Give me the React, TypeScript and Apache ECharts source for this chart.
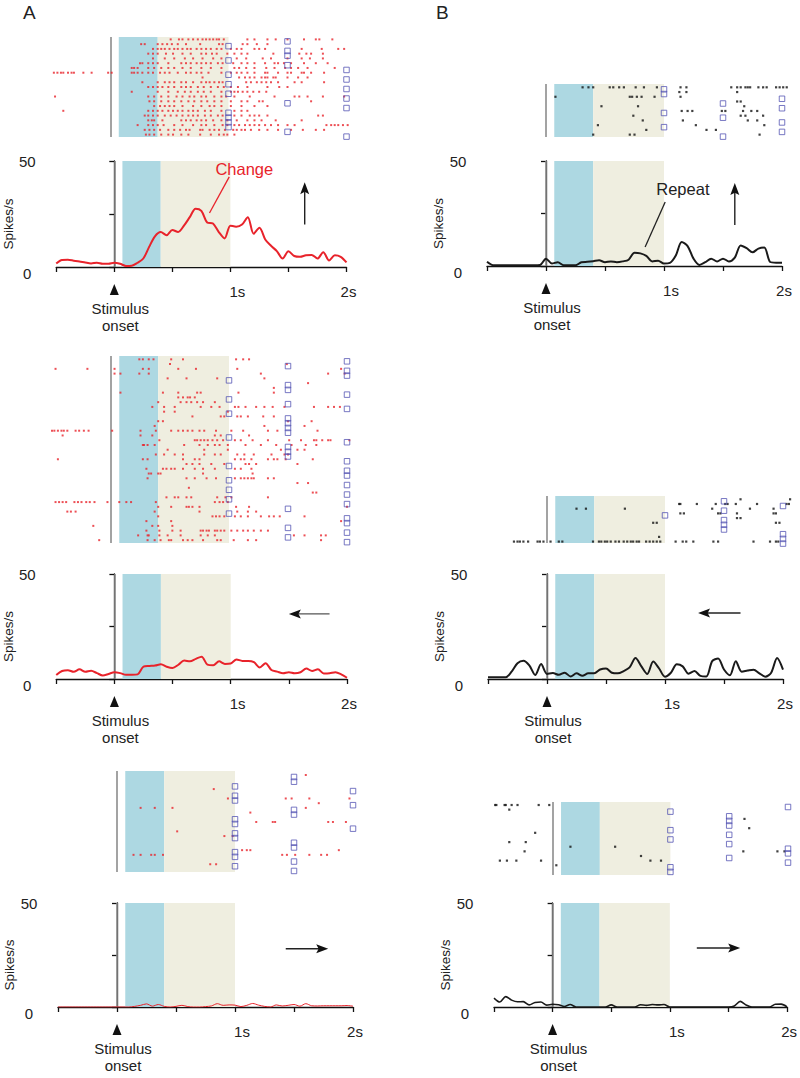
import React, { useEffect, useRef } from 'react';
import * as echarts from 'echarts';

// ---------------- DATA ----------------
const PSTH_T = [-0.5, -0.45, -0.4, -0.35, -0.3, -0.25, -0.2, -0.15, -0.1, -0.05, 0, 0.05, 0.1, 0.15, 0.2, 0.25, 0.3, 0.35, 0.4, 0.45, 0.5, 0.55, 0.6, 0.65, 0.7, 0.75, 0.8, 0.85, 0.9, 0.95, 1, 1.05, 1.1, 1.15, 1.2, 1.25, 1.3, 1.35, 1.4, 1.45, 1.5, 1.55, 1.6, 1.65, 1.7, 1.75, 1.8, 1.85, 1.9, 1.95, 2];

const psthA1 = [1.6, 3.3, 3.4, 3.0, 2.6, 2.1, 1.7, 2.0, 1.5, 1.5, 2.0, 1.5, 0.5, 0.6, 2.0, 4.0, 9.5, 14.5, 16.5, 15.0, 17.5, 16.5, 19.5, 23.5, 27.5, 26.5, 21.0, 20.5, 16.5, 13.5, 19.5, 19.0, 20.0, 23.5, 15.7, 18.5, 13.0, 10.0, 7.5, 4.0, 7.4, 5.2, 4.8, 5.5, 5.7, 4.0, 7.0, 3.1, 5.5, 4.8, 2.2];
const psthB1 = [2.0, 0.4, 0.3, 0.3, 0.3, 0.3, 0.3, 0.3, 0.3, 0.5, 3.5, 1.2, 1.8, 0.3, 0.3, 0.3, 1.8, 2.0, 2.3, 2.7, 1.8, 2.2, 1.8, 2.2, 3.0, 6.3, 6.0, 4.8, 2.2, 2.5, 1.2, 1.5, 5.0, 11.4, 9.5, 3.5, 0.5, 1.8, 3.5, 2.2, 3.5, 2.2, 4.0, 9.8, 8.5, 6.5, 8.3, 8.8, 1.9, 1.6, 1.6];
const psthA2 = [1.9, 3.8, 4.2, 3.4, 4.6, 3.4, 3.9, 2.8, 1.7, 2.4, 3.2, 2.8, 2.0, 2.0, 2.2, 5.9, 6.2, 6.4, 7.0, 5.8, 5.2, 6.8, 8.8, 8.4, 9.6, 10.6, 6.8, 6.5, 8.4, 7.2, 7.4, 9.3, 8.6, 8.6, 8.0, 5.5, 7.5, 4.3, 3.5, 2.7, 3.2, 2.7, 3.2, 5.0, 3.8, 4.6, 2.6, 2.7, 3.2, 2.2, 0.6];
const psthB2 = [0.8, 0.8, 0.8, 0.8, 3.5, 7.5, 8.7, 6.5, 1.9, 7.1, 2.4, 2.8, 2.0, 3.0, 1.2, 2.7, 1.5, 2.7, 2.7, 4.5, 5.0, 3.0, 2.7, 3.8, 5.5, 10.0, 6.0, 2.4, 8.3, 5.0, 1.1, 3.0, 7.0, 6.0, 2.5, 3.8, 1.5, 1.2, 8.5, 9.8, 4.5, 1.8, 8.5, 3.5, 4.0, 4.4, 2.7, 1.1, 3.0, 10.0, 4.5];
const psthA3 = [0, 0, 0, 0, 0, 0, 0, 0, 0, 0, 0, 0, 0, 0.3, 0.8, 1.5, 0.4, 1.2, 0.3, 0, 0.3, 0.8, 0.2, 0, 0, 0.2, 0.5, 1.6, 0.8, 1.0, 0.9, 0.2, 0.8, 1.7, 0.9, 0.3, 0, 1.0, 0.5, 0.8, 1.2, 0.4, 1.6, 0.6, 0.5, 0.6, 0.6, 0.6, 0.6, 0.7, 0.4];
const psthB3 = [4.3, 2.4, 5.0, 3.3, 2.5, 2.6, 1.0, 2.2, 2.4, 0.9, 1.3, 1.1, 0.2, 1.2, 0, 0, 0, 0, 0, 0, 1.0, 0, 0, 0, 0, 1.1, 0.8, 1.2, 1.0, 1.2, 0, 0, 0, 0, 0, 0, 0, 0, 0, 0, 0, 0.5, 2.7, 1.0, 0, 0, 0, 0, 1.3, 1.4, 0.1];

// raster spike times (s) per trial, and the trial-end marker time
const rasterA1Spikes = [
  [0.51, 0.58, 0.61, 0.66, 0.70, 0.74, 0.78, 0.81, 0.84, 0.87, 0.90, 0.92, 0.96, 1.16, 1.22, 1.33, 1.40, 1.50, 1.64, 1.74, 1.77, 1.88],
  [0.26, 0.29, 0.40, 0.44, 0.48, 0.52, 0.57, 0.64, 0.76, 0.92, 0.95, 1.12, 1.16, 1.24, 1.33],
  [0.36, 0.40, 0.43, 0.46, 0.50, 0.54, 0.57, 0.61, 0.65, 0.68, 0.73, 0.77, 0.81, 0.85, 0.90, 0.94, 1.02, 1.07, 1.11, 1.22, 1.26, 1.31, 1.62, 1.79, 1.93, 1.98],
  [0.32, 0.36, 0.40, 0.47, 0.53, 0.61, 0.68, 0.77, 0.81, 0.86, 0.90, 0.99, 1.05, 1.11, 1.16, 1.38, 1.60, 1.66, 1.70, 1.80],
  [0.36, 0.46, 0.54, 0.63, 0.70, 0.78, 0.87, 0.94, 1.07, 1.15, 1.29, 1.36, 1.50, 1.62, 1.69, 1.80],
  [0.25, 0.27, 0.32, 0.36, 0.40, 0.49, 0.60, 0.64, 0.68, 0.73, 0.77, 0.81, 0.85, 0.91, 0.95, 1.04, 1.11, 1.16, 1.22, 1.31, 1.39, 1.42, 1.47, 1.53, 1.64, 1.74, 1.84],
  [0.18, 0.20, 0.23, 0.32, 0.37, 0.43, 0.49, 0.54, 0.61, 0.68, 0.77, 0.85, 0.94, 1.05, 1.09, 1.15, 1.22, 1.32, 1.39, 1.48, 1.53, 1.59, 1.67, 1.90],
  [-0.48, -0.45, -0.42, -0.40, -0.36, -0.33, -0.31, -0.23, -0.16, -0.02, 0.01, 0.18, 0.20, 0.23, 0.27, 0.32, 0.36, 0.42, 0.46, 0.50, 0.57, 0.64, 0.68, 0.73, 0.77, 0.83, 0.94, 1.02, 1.07, 1.11, 1.16, 1.22, 1.31, 1.33, 1.42, 1.50, 1.53, 1.62, 1.64, 1.70, 1.81],
  [0.78, 1.09, 1.14, 1.18, 1.22, 1.28, 1.31, 1.33, 1.38, 1.40, 1.50, 1.59, 1.67],
  [0.27, 0.40, 0.46, 0.50, 0.54, 0.60, 0.64, 0.70, 0.77, 0.81, 0.84, 0.88, 0.92, 0.95, 1.15, 1.19, 1.24, 1.28, 1.32, 1.36, 1.42, 1.56, 1.62, 1.81],
  [0.32, 0.36, 0.40, 0.44, 0.49, 0.54, 0.60, 0.64, 0.68, 0.74, 0.79, 0.85, 0.91, 0.96, 1.02, 1.08, 1.16, 1.33, 1.43, 1.50],
  [0.18, 0.40, 0.49, 0.57, 0.63, 0.68, 0.74, 0.79, 0.85, 0.94, 1.02, 1.05, 1.08, 1.12, 1.16, 1.21, 1.26, 1.32],
  [-0.47, 0.32, 0.37, 0.43, 0.49, 0.56, 0.61, 0.67, 0.71, 0.77, 0.81, 0.88, 0.94, 0.98, 1.05, 1.18, 1.39, 1.56, 1.60, 1.67, 1.80, 1.98],
  [0.33, 0.37, 0.43, 0.49, 0.54, 0.60, 0.66, 0.71, 0.77, 0.82, 0.88, 0.94, 1.02, 1.11, 1.16, 1.26, 1.29, 1.70],
  [0.37, 0.42, 0.46, 0.50, 0.54, 0.61, 0.70, 0.77, 0.84, 0.88, 0.94, 1.02, 1.11, 1.22, 1.33],
  [-0.40, 0.32, 0.36, 0.40, 0.44, 0.49, 0.53, 0.57, 0.61, 0.66, 0.70, 0.74, 0.80, 0.85, 0.94, 1.05, 1.11, 1.16],
  [0.29, 0.32, 0.36, 0.40, 0.46, 0.51, 0.56, 0.61, 0.66, 0.70, 0.74, 0.80, 0.85, 0.91, 0.95, 1.05, 1.11, 1.18, 1.22, 1.26, 1.33, 1.76, 1.80],
  [0.32, 0.35, 0.37, 0.44, 0.60, 0.64, 0.68, 0.73, 0.77, 0.81, 0.87, 0.94, 0.99, 1.07, 1.16, 1.22, 1.28, 1.40, 1.62],
  [0.23, 0.32, 0.36, 0.40, 0.45, 0.54, 0.61, 0.70, 0.77, 0.81, 0.88, 0.95, 0.99, 1.05, 1.09, 1.14, 1.18, 1.22, 1.26, 1.31, 1.36, 1.42, 1.50, 1.56, 1.83, 1.87, 1.90, 1.93, 1.97, 2.01],
  [0.29, 0.33, 0.37, 0.42, 0.49, 0.54, 0.59, 0.64, 0.67, 0.76, 0.78, 0.84, 0.88, 0.92, 0.97, 1.04, 1.07, 1.11, 1.14, 1.19, 1.26, 1.33, 1.42, 1.53, 1.63, 1.74, 1.81],
  [0.30, 0.33, 0.37, 0.43, 0.49, 0.53, 0.60, 0.66, 0.76, 0.85, 0.92, 0.96, 0.99, 1.05],
];
const rasterA1Ends = [1.5, 1.0, 1.5, 1.5, 1.0, 1.5, 2.0, 1.0, 2.0, 1.0, 2.0, 1.0, 2.0, 1.5, 2.0, 1.0, 1.0, 1.0, 1.0, 1.5, 2.0];

const rasterA2Spikes = [
  [0.24, 0.27, 0.32, 0.36, 0.51, 0.61, 1.06, 1.12, 1.17],
  [0.50, 1.49],
  [-0.47, -0.20, 0.03, 0.27, 0.32, 0.57, 0.72, 1.07, 1.95],
  [0.03, 0.08, 0.24, 0.32, 1.27, 1.84, 1.98],
  [0.48, 0.64, 0.90, 1.30],
  [1.67],
  [1.38],
  [0.08, 0.44, 0.57, 0.73, 0.76, 1.08, 1.38],
  [0.57, 0.61, 0.65, 0.67, 0.71],
  [0.40, 0.59, 0.64, 0.68, 0.73, 0.78, 0.88],
  [0.35, 0.45, 0.54, 0.76, 0.85, 0.92, 1.05, 1.08, 1.14, 1.23, 1.30, 1.37, 1.47, 1.72, 1.84, 1.89, 1.94],
  [0.45, 0.54, 0.99],
  [0.69, 0.93, 0.96, 1.07, 1.10, 1.16, 1.29, 1.38],
  [0.40, 0.44, 1.50, 1.70],
  [0.37, 1.30, 1.64],
  [-0.50, -0.48, -0.45, -0.42, -0.40, -0.37, -0.30, -0.27, -0.23, -0.19, 0.01, 0.25, 0.38, 0.51, 0.57, 0.61, 0.65, 0.69, 0.75, 0.79, 0.89, 1.02, 1.12, 1.33, 1.41, 1.75],
  [-0.41, 0.25, 0.35, 0.88, 0.93, 1.17],
  [0.41, 0.71, 0.73, 0.76, 0.79, 0.82, 0.86, 0.90, 0.95, 1.05, 1.10, 1.20, 1.33, 1.51, 1.61, 1.72, 1.74, 1.79, 1.84, 1.86, 2.02],
  [0.27, 0.28, 0.31, 0.37, 0.62, 0.75, 0.82, 0.88, 0.92, 0.99, 1.14, 1.27, 1.40, 1.53, 1.65, 1.74],
  [0.48, 0.79, 0.99, 1.44, 1.58, 1.64],
  [0.38, 0.45, 0.54, 0.61, 0.79, 0.88, 0.93, 1.07, 1.13, 1.21, 1.36, 1.47, 1.50],
  [-0.45, 0.27, 0.31, 0.61, 0.71, 0.75, 1.05, 1.10, 1.13, 1.19, 1.33, 1.38, 1.41, 1.48, 1.71],
  [0.64, 0.69, 0.75, 0.85, 0.96, 1.14, 1.17, 1.23, 1.58],
  [0.30, 0.44, 0.47, 0.51, 0.54, 0.61, 0.71, 0.78, 0.88, 1.05, 1.10, 1.19],
  [0.32, 0.34, 0.40, 0.42, 0.78, 1.20],
  [0.31, 0.64, 0.71, 0.81, 0.89, 1.05, 1.10, 1.13, 1.16, 1.19, 1.21, 1.33, 1.38],
  [1.58, 1.67],
  [0.66],
  [1.71, 1.74],
  [0.47, 0.54, 0.57, 0.64, 0.68, 0.90, 0.97, 1.02, 1.33],
  [-0.47, -0.44, -0.41, -0.38, -0.31, -0.28, -0.25, -0.21, -0.18, -0.14, -0.03, 0.07, 0.13, 0.17, 0.38, 0.88, 0.92, 0.95, 0.99],
  [0.40, 0.51, 0.64, 0.66, 0.69, 0.75, 1.06, 1.17, 2.00],
  [-0.37, -0.34, -0.30, 0.37, 0.75, 1.07, 1.16, 1.23],
  [0.40, 0.86, 0.89, 0.92, 0.96, 1.05, 1.10, 1.16, 1.27, 1.34, 1.38, 1.43, 1.64],
  [0.30, 0.51, 1.95],
  [-0.15, 0.35, 0.40, 0.52],
  [0.30, 0.41, 0.52, 0.59, 0.76, 0.78, 0.81, 0.83, 0.88, 0.90, 0.93, 0.96, 1.02, 1.07, 1.12, 1.16, 1.21, 1.27, 1.33],
  [0.23, 0.31, 0.32, 0.41, 0.48, 0.59, 0.76, 0.82, 0.88, 1.55, 1.64, 1.78, 1.82],
  [-0.10, 0.31, 0.37, 0.42, 0.49, 0.51, 0.61, 0.65, 0.69, 0.78, 0.90, 0.93, 1.04, 1.16, 1.23, 1.78],
];
const rasterA2Ends = [2.0, 1.5, 2.0, 2.0, 1.0, 1.5, 1.5, 2.0, 1.0, 1.5, 2.0, 1.0, 1.5, 1.5, 1.5, 1.5, 1.0, 2.0, 1.5, 1.5, 1.5, 2.0, 1.0, 2.0, 2.0, 1.0, 2.0, 1.0, 2.0, 1.0, 2.0, 1.5, 1.0, 2.0, 2.0, 1.5, 2.0, 1.5, 2.0];

const rasterA3Spikes = [
  [1.60], [], [], [0.82], [], [0.94, 1.43, 1.48, 1.63, 1.97], [1.71], [0.20, 0.32, 0.47, 1.60], [1.13], [],
  [1.18, 1.32, 1.34, 1.79, 1.83, 1.94], [], [0.51], [0.91, 0.98], [], [], [1.06, 1.10, 1.13, 1.88],
  [0.14, 0.20, 0.29, 0.32, 0.39, 1.40, 1.44, 1.51, 1.63, 1.73, 1.78], [], [0.79, 0.84], [],
];
const rasterA3Ends = [1.5, 1.5, 1.0, 2.0, 1.0, 1.0, 2.0, 1.5, 1.5, 1.0, 1.0, 2.0, 1.0, 1.0, 1.5, 1.5, 1.0, 1.0, 1.5, 1.0, 1.5];

const rasterB1Spikes = [
  [0.31, 0.36, 0.40, 0.54, 0.57, 0.62, 0.66, 0.76, 0.83, 0.94, 1.14, 1.19, 1.57, 1.62, 1.65, 1.69, 1.71, 1.73, 1.80, 1.84, 1.87, 1.95, 1.98, 2.01, 2.04],
  [1.13, 1.19, 1.62],
  [0.08, 0.71, 0.73, 0.77, 0.81, 0.92, 1.14],
  [1.62, 1.65],
  [0.47, 0.78, 1.68],
  [1.15, 1.20, 1.24, 1.49, 1.52, 1.67, 1.74, 1.79],
  [0.74, 1.65, 1.69, 1.84],
  [0.82, 1.16, 1.71, 1.79],
  [0.44, 1.27, 1.85],
  [0.85, 1.36, 1.44],
  [0.40, 0.71, 0.75, 1.81],
];
const rasterB1Ends = [1.0, 1.0, 2.0, 1.5, 2.0, 1.0, 1.5, 2.0, 1.0, 2.0, 1.5];

const rasterB2Spikes = [
  [1.64, 2.06],
  [1.12, 1.13, 1.27, 1.43, 1.51, 1.53, 1.60, 1.78, 2.03, 2.05],
  [0.25, 0.33, 0.66, 1.40, 1.72, 1.92],
  [1.13, 1.16, 1.45, 1.47, 1.61, 1.92, 1.94],
  [1.61, 1.64],
  [0.90, 0.93, 1.94, 1.97],
  [],
  [],
  [0.95],
  [-0.28, -0.25, -0.23, -0.20, -0.16, -0.08, -0.06, -0.03, 0.03, 0.10, 0.13, 0.39, 0.44, 0.46, 0.49, 0.51, 0.54, 0.58, 0.61, 0.65, 0.68, 0.71, 0.73, 0.76, 0.78, 0.84, 0.87, 0.90, 0.93, 0.96, 1.09, 1.15, 1.18, 1.24, 1.41, 1.45, 1.75, 1.89, 1.94, 1.96],
];
const rasterB2Ends = [1.5, 2.0, 1.5, 1.0, 1.5, 1.5, 1.5, 2.0, 2.0, 2.0];

const rasterB3Spikes = [
  [-0.49, -0.48, -0.41, -0.40, -0.35, -0.30, -0.12, -0.03],
  [-0.37], [], [1.63], [], [1.67], [-0.15], [], [-0.37, -0.23], [0.15, 0.53],
  [-0.24, 1.62, 1.91, 1.97], [0.75], [-0.45, -0.39, -0.31, -0.10, 0.83, 0.92], [0.03], [],
];
const rasterB3Ends = [2.0, 1.0, 1.5, 1.5, 1.5, 1.0, 1.5, 1.0, 1.5, 2.0, 2.0, 1.5, 2.0, 1.0, 1.0];

// epochs (s)
const EPOCH_1 = [0.07, 0.40];
const EPOCH_2 = [0.40, 1.0];
const X_TICKS_LABELS: Record<number, string> = { 1: '1s', 2: '2s' };

// annotations (data coordinates in PSTH axes)
const ARROWS = [
  { panel: 0, from: [1.64, 20], to: [1.64, 40] },
  { panel: 1, from: [1.60, 19.5], to: [1.60, 39.5] },
  { panel: 2, from: [1.85, 31], to: [1.50, 31] },
  { panel: 3, from: [1.64, 31.4], to: [1.28, 31.4] },
  { panel: 4, from: [1.43, 28], to: [1.79, 28] },
  { panel: 5, from: [1.23, 28.4], to: [1.60, 28.4] },
];
const CALLOUTS = [
  { panel: 0, text: 'Change', at: [1.12, 46.2], from: [0.99, 42.5], to: [0.82, 25.5], color: '#e8232b' },
  { panel: 1, text: 'Repeat', at: [1.16, 36.7], from: [1.01, 30.5], to: [0.84, 9], color: '#222222' },
];

// ---------------- STYLE / LAYOUT ----------------
const FONT = "'Liberation Sans', Arial, Helvetica, sans-serif";
const RED = '#e8232b';
const BLUE_FILL = '#add8e2';
const BEIGE_FILL = '#efeee0';
const GRAY = '#8c8c8c';
const SQ = '#5656b4';
const AX = '#111111';

const PANELS = [
  { spikes: rasterA1Spikes, ends: rasterA1Ends, psth: psthA1, line: RED, lw: 2, dot: RED, ds: 2,
    raster: { left: 51.5, top: 37, width: 295, height: 100, yMin: -0.5, yMax: 20.5 },
    hist: { left: 51.5, top: 161, width: 295, height: 106 } },
  { spikes: rasterB1Spikes, ends: rasterB1Ends, psth: psthB1, line: '#1a1a1a', lw: 2, dot: '#111', ds: 2.2,
    raster: { left: 487, top: 84, width: 295, height: 53, yMin: -0.7, yMax: 10.5 },
    hist: { left: 487, top: 161, width: 295, height: 105 } },
  { spikes: rasterA2Spikes, ends: rasterA2Ends, psth: psthA2, line: RED, lw: 2, dot: RED, ds: 2,
    raster: { left: 52, top: 356, width: 295, height: 187, yMin: -0.7, yMax: 38.6 },
    hist: { left: 52, top: 574, width: 295, height: 105 } },
  { spikes: rasterB2Spikes, ends: rasterB2Ends, psth: psthB2, line: '#1a1a1a', lw: 2, dot: '#111', ds: 2.2,
    raster: { left: 488, top: 496, width: 295, height: 47, yMin: -0.7, yMax: 9.3 },
    hist: { left: 488, top: 574, width: 295, height: 105 } },
  { spikes: rasterA3Spikes, ends: rasterA3Ends, psth: psthA3, line: RED, lw: 1, dot: RED, ds: 2,
    raster: { left: 58, top: 771, width: 295, height: 101, yMin: -0.85, yMax: 20.65 },
    hist: { left: 58, top: 903, width: 295, height: 104 } },
  { spikes: rasterB3Spikes, ends: rasterB3Ends, psth: psthB3, line: '#1a1a1a', lw: 1.6, dot: '#111', ds: 2.2,
    raster: { left: 494, top: 802, width: 294, height: 73, yMin: -0.65, yMax: 15.1 },
    hist: { left: 494, top: 903, width: 294, height: 104 } },
];

function shadingSeries(idx: number) {
  return {
    type: 'line', xAxisIndex: idx, yAxisIndex: idx, data: [], z: 1, zlevel: 0, silent: true, showSymbol: false,
    markArea: {
      silent: true, z: 1,
      data: [
        [{ xAxis: EPOCH_1[0], itemStyle: { color: BLUE_FILL } }, { xAxis: EPOCH_1[1] }],
        [{ xAxis: EPOCH_2[0], itemStyle: { color: BEIGE_FILL } }, { xAxis: EPOCH_2[1] }],
      ],
    },
    markLine: {
      silent: true, symbol: 'none', label: { show: false }, z: 2,
      lineStyle: { color: GRAY, width: 1.6, type: 'solid' },
      data: [{ xAxis: 0 }],
    },
  };
}

function buildOption() {
  const grid: any[] = [];
  const xAxis: any[] = [];
  const yAxis: any[] = [];
  const series: any[] = [];
  PANELS.forEach((p, k) => {
    const ri = 2 * k;
    const hi = 2 * k + 1;
    grid.push({ left: p.raster.left, top: p.raster.top, width: p.raster.width, height: p.raster.height });
    grid.push({ left: p.hist.left, top: p.hist.top, width: p.hist.width, height: p.hist.height });
    xAxis.push({ gridIndex: ri, type: 'value', min: -0.5, max: 2, show: false, splitLine: { show: false } });
    yAxis.push({ gridIndex: ri, type: 'value', min: p.raster.yMin, max: p.raster.yMax, inverse: true, show: false, splitLine: { show: false } });
    xAxis.push({
      gridIndex: hi, type: 'value', min: -0.5, max: 2, interval: 0.5,
      axisLine: { show: true, onZero: false, lineStyle: { color: AX, width: 1.3 } },
      axisTick: { show: true, length: 5, lineStyle: { color: AX, width: 1.3 } },
      splitLine: { show: false },
      axisLabel: {
        margin: 17, fontSize: 15, color: '#222', fontFamily: FONT,
        formatter: (v: number) => (v === 1 ? '{o|' + X_TICKS_LABELS[1] + '}' : v === 2 ? '{t|' + X_TICKS_LABELS[2] + '}' : ''),
        rich: {
          o: { fontSize: 15, color: '#222', fontFamily: FONT, padding: [0, 0, 0, 14] },
          t: { fontSize: 15, color: '#222', fontFamily: FONT, padding: [0, 0, 0, 4] },
        },
      },
    });
    yAxis.push({
      gridIndex: hi, type: 'value', min: 0, max: 50, interval: 25,
      axisLine: { show: true, lineStyle: { color: AX, width: 1.3 } },
      axisTick: { show: true, length: 5, lineStyle: { color: AX, width: 1.3 } },
      splitLine: { show: false },
      axisLabel: {
        margin: 29, align: 'center', fontSize: 15, color: '#222', fontFamily: FONT,
        formatter: (v: number) => (v === 0 ? '{z|0}' : v === 50 ? '50' : ''),
        rich: { z: { fontSize: 15, color: '#222', fontFamily: FONT, padding: [12, 0, 0, 0] } },
      },
      name: 'Spikes/s', nameLocation: 'middle', nameGap: 37, nameRotate: 90,
      nameTextStyle: { fontSize: 13.5, color: '#222', fontFamily: FONT, padding: [0, 20, 0, 0] },
    });

    // raster
    series.push(shadingSeries(ri));
    const dots: number[][] = [];
    p.spikes.forEach((row, r) => row.forEach((t) => dots.push([t, r])));
    series.push({
      type: 'scatter', xAxisIndex: ri, yAxisIndex: ri, data: dots, symbol: 'rect', symbolSize: p.ds,
      itemStyle: { color: p.dot }, z: 5, silent: true, clip: false,
    });
    series.push({
      type: 'scatter', xAxisIndex: ri, yAxisIndex: ri, data: p.ends.map((t, r) => [t, r]),
      symbol: 'rect', symbolSize: 5.5, symbolOffset: [0, 2],
      itemStyle: { color: 'rgba(255,255,255,0)', borderColor: SQ, borderWidth: 1 }, z: 6, silent: true, clip: false,
    });

    // PSTH
    series.push(shadingSeries(hi));
    series.push({
      type: 'line', xAxisIndex: hi, yAxisIndex: hi, data: PSTH_T.map((t, i) => [t, p.psth[i]]),
      showSymbol: false, smooth: 0.3, lineStyle: { color: p.line, width: p.lw }, z: 5, silent: true,
    });
  });
  return {
    animation: false,
    backgroundColor: '#ffffff',
    textStyle: { fontFamily: FONT },
    grid, xAxis, yAxis, series,
  };
}

function buildGraphics(chart: any) {
  const px = (panel: number, pt: number[]) => chart.convertToPixel({ gridIndex: 2 * panel + 1 }, pt) as number[];
  const g: any[] = [];
  const Z = 100;
  g.push({ type: 'text', z: Z, left: 23, top: 3, style: { text: 'A', fill: '#222', font: '19px ' + FONT } });
  g.push({ type: 'text', z: Z, left: 436, top: 3, style: { text: 'B', fill: '#222', font: '19px ' + FONT } });

  PANELS.forEach((_, k) => {
    const o = px(k, [0, 0]);
    g.push({ type: 'polygon', z: Z, shape: { points: [[o[0], o[1] + 17], [o[0] + 4.5, o[1] + 28], [o[0] - 4.5, o[1] + 28]] }, style: { fill: '#111' } });
    g.push({ type: 'text', z: Z, x: o[0] + 6, y: o[1] + 41, style: { text: 'Stimulus', fill: '#222', font: '15px ' + FONT, textAlign: 'center', textVerticalAlign: 'middle' } });
    g.push({ type: 'text', z: Z, x: o[0] + 6, y: o[1] + 58, style: { text: 'onset', fill: '#222', font: '15px ' + FONT, textAlign: 'center', textVerticalAlign: 'middle' } });
  });

  ARROWS.forEach((a) => {
    const p0 = px(a.panel, a.from);
    const p1 = px(a.panel, a.to);
    const dx = p1[0] - p0[0];
    const dy = p1[1] - p0[1];
    const len = Math.hypot(dx, dy);
    const ux = dx / len;
    const uy = dy / len;
    const hl = 12;
    const hw = 4.5;
    const bx = p1[0] - ux * hl;
    const by = p1[1] - uy * hl;
    const nx = -uy;
    const ny = ux;
    g.push({ type: 'line', z: Z, shape: { x1: p0[0], y1: p0[1], x2: bx + ux * 3, y2: by + uy * 3 }, style: { stroke: a.panel === 2 ? '#555' : '#222', lineWidth: 1.4 } });
    g.push({ type: 'polygon', z: Z, shape: { points: [[p1[0], p1[1]], [bx + nx * hw, by + ny * hw], [p1[0] - ux * hl * 0.8, p1[1] - uy * hl * 0.8], [bx - nx * hw, by - ny * hw]] }, style: { fill: '#111' } });
  });

  CALLOUTS.forEach((c) => {
    const a = px(c.panel, c.at);
    const f = px(c.panel, c.from);
    const t = px(c.panel, c.to);
    g.push({ type: 'line', z: Z, shape: { x1: f[0], y1: f[1], x2: t[0], y2: t[1] }, style: { stroke: c.color, lineWidth: 1.3 } });
    g.push({ type: 'text', z: Z, x: a[0], y: a[1], style: { text: c.text, fill: c.color, font: '16.5px ' + FONT, textAlign: 'center', textVerticalAlign: 'middle' } });
  });
  return g;
}

export default function App() {
  const ref = useRef<HTMLDivElement>(null);
  useEffect(() => {
    if (!ref.current) return;
    const chart = echarts.init(ref.current, null, { renderer: 'svg' });
    chart.setOption(buildOption() as any);
    chart.setOption({ graphic: buildGraphics(chart) } as any);
    return () => chart.dispose();
  }, []);
  return <div ref={ref} style={{ position: 'absolute', left: 0, top: 0, width: 800, height: 1078 }} />;
}
